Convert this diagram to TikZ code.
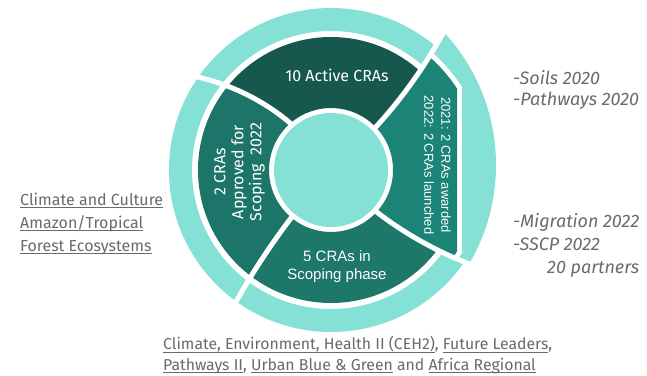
\documentclass[tikz,border=0pt]{standalone}
\usepackage{fontspec}
\setmainfont{Fira Sans}
\newfontfamily\robf{Liberation Sans}
\definecolor{ringc}{HTML}{85E0D6}
\definecolor{segtop}{HTML}{17584E}
\definecolor{segright}{HTML}{1B8476}
\definecolor{segleft}{HTML}{1C7568}
\definecolor{segbot}{HTML}{1D786A}
\definecolor{txtgray}{HTML}{6A6A6A}
\newcommand\myul[1]{\setbox0=\hbox{#1}\rlap{\copy0}\rule[-2.6pt]{\wd0}{0.7pt}}
% colour, a1, k1, a2, k2 : separator angle = a + k*(r-57)
\newcommand\segfill[5]{%
  \fill[#1] plot[domain=62:133, samples=16, variable=\rr] ({#2+#3*(\rr-57)}:{\rr})
    arc[start angle={#2+#3*76}, end angle={#4+#5*76}, radius=133]
    -- plot[domain=133:62, samples=16, variable=\rr] ({#4+#5*(\rr-57)}:{\rr})
    arc[start angle={#4+#5*5}, end angle={#2+#3*5}, radius=62] -- cycle;}
\newcommand\sepline[3]{%
  \draw[white, line width=5pt] plot[domain=59:#3, samples=30, variable=\rr] ({#1+#2*(\rr-57)}:{\rr});}
\tikzset{
  segtext/.style={text=white, align=center, inner sep=0pt},
  annot/.style={text=txtgray, align=left, inner sep=0pt, anchor=west},
}
\begin{document}
\begin{tikzpicture}[x=1pt,y=1pt]
\useasboundingbox (-331,-205) rectangle (316,170);
% general light outer ring
\fill[ringc, even odd rule] (0,0) circle[radius=162] (0,0) circle[radius=139];
% dark segments (top, left, bottom)
\segfill{segtop}{43.5}{0.06}{130.3}{0.14}
\segfill{segleft}{130.3}{0.14}{230}{0.04}
\segfill{segbot}{230}{0.04}{317}{0.08}
% right piece (flatter dark segment, wider light arc)
\begin{scope}
  \clip plot[domain=50:210, samples=20, variable=\rr] ({-43+0.08*(\rr-57)}:{\rr})
    arc[start angle={-43+0.08*153}, end angle={43.5+0.06*153}, radius=210]
    -- plot[domain=210:50, samples=20, variable=\rr] ({43.5+0.06*(\rr-57)}:{\rr}) -- cycle;
  \fill[white] (0,0) circle[radius=215];
  \fill[ringc] (-30,5) circle[radius=195];
  \begin{scope}
    \clip (-400,-400) rectangle (131,400);
    \fill[white] (0,0) circle[radius=155];
  \end{scope}
  \begin{scope}
    \clip (-400,-400) rectangle (126,400);
    \fill[segright, even odd rule] (0,0) circle[radius=150] (0,0) circle[radius=62];
  \end{scope}
\end{scope}
% separators
\sepline{43.5}{0.06}{190}
\sepline{130.3}{0.14}{175}
\sepline{230}{0.04}{172}
\sepline{-43}{0.08}{185}
% inner circle
\fill[ringc] (0,0) circle[radius=57];
% segment texts
\node[segtext, font=\fontsize{16}{18}\selectfont] (top) at (6,95) {10 Active CRAs};
\node[segtext, font=\fontsize{16}{18}\selectfont, rotate=90] (left) at (-91.5,-2) {2 CRAs\\Approved for\\Scoping~ 2022};
\node[segtext, font=\robf\fontsize{13}{17}\selectfont, rotate=-90] (right) at (106.5,5) {2021: 2 CRAs awarded\\2022: 2 CRAs launched};
\node[segtext, font=\robf\fontsize{15}{18}\selectfont] (bottom) at (6,-97) {5 CRAs in\\Scoping phase};
% annotations
\node[annot, font=\fontsize{16}{23}\selectfont] (leftnote) at (-311,-54) {\myul{Climate and Culture}\\\myul{Amazon/Tropical}\\\myul{Forest Ecosystems}};
\node[annot, font=\itshape\fontsize{18}{21}\selectfont] (rightnoteA) at (182,80) {-Soils 2020\\-Pathways 2020};
\node[annot, font=\itshape\fontsize{18}{23}\selectfont] (rightnoteB) at (182,-75) {-Migration 2022\\-SSCP 2022\\\hspace*{34pt}20 partners};
\node[annot, font=\fontsize{15.8}{20.5}\selectfont] (bottomnote) at (-168,-185) {\myul{Climate, Environment, Health II (CEH2)}, \myul{Future Leaders},\\\myul{Pathways II}, \myul{Urban Blue \& Green} and \myul{Africa Regional}};
\end{tikzpicture}
\end{document}
